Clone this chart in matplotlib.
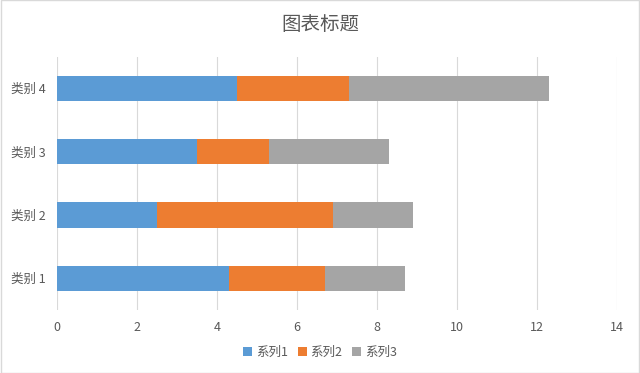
import matplotlib
matplotlib.use("Agg")
import matplotlib.pyplot as plt
from matplotlib.patches import Rectangle
import numpy as np

plt.rcParams['font.family'] = ['Noto Sans CJK SC', 'DejaVu Sans']

categories = ["类别 1", "类别 2", "类别 3", "类别 4"]
series_names = ["系列1", "系列2", "系列3"]
s1 = [4.3, 2.5, 3.5, 4.5]
s2 = [2.4, 4.4, 1.8, 2.8]
s3 = [2.0, 2.0, 3.0, 5.0]
colors = ["#5B9BD5", "#ED7D31", "#A5A5A5"]
xticks = [0, 2, 4, 6, 8, 10, 12, 14]

fig = plt.figure(figsize=(6.4, 3.73), dpi=100)
ax = fig.add_axes([0.089, 0.169, 0.875, 0.679])

y = np.arange(len(categories))
left = np.zeros(len(categories))
for vals, name, c in zip([s1, s2, s3], series_names, colors):
    ax.barh(y, vals, left=left, height=0.4, color=c, label=name, zorder=3)
    left += np.array(vals)

ax.set_xlim(0, 14)
ax.set_ylim(-0.5, 3.5)
ax.set_xticks(xticks)
ax.set_yticks(y)
ax.set_yticklabels(categories)
ax.grid(axis='x', color='#D9D9D9', linewidth=0.8, zorder=0)
for s in ax.spines.values():
    s.set_visible(False)
ax.tick_params(axis='both', length=0, colors='#595959', labelsize=9)
ax.tick_params(axis='x', pad=8)
ax.tick_params(axis='y', pad=8)

fig.text(0.5, 0.935, "图表标题", ha='center', va='center', fontsize=14, color='#595959')

handles, labels = ax.get_legend_handles_labels()
fig.legend(handles, labels, loc='center', bbox_to_anchor=(0.5, 0.055), ncol=3,
           frameon=False, fontsize=9, labelcolor='#595959',
           handlelength=0.7, handleheight=0.7, handletextpad=0.3, columnspacing=0.8)

fig.patches.append(Rectangle((0.001, 0.001), 0.998, 0.998, transform=fig.transFigure,
                             fill=False, edgecolor='#D9D9D9', linewidth=1))

fig.savefig("out.png", dpi=100)
